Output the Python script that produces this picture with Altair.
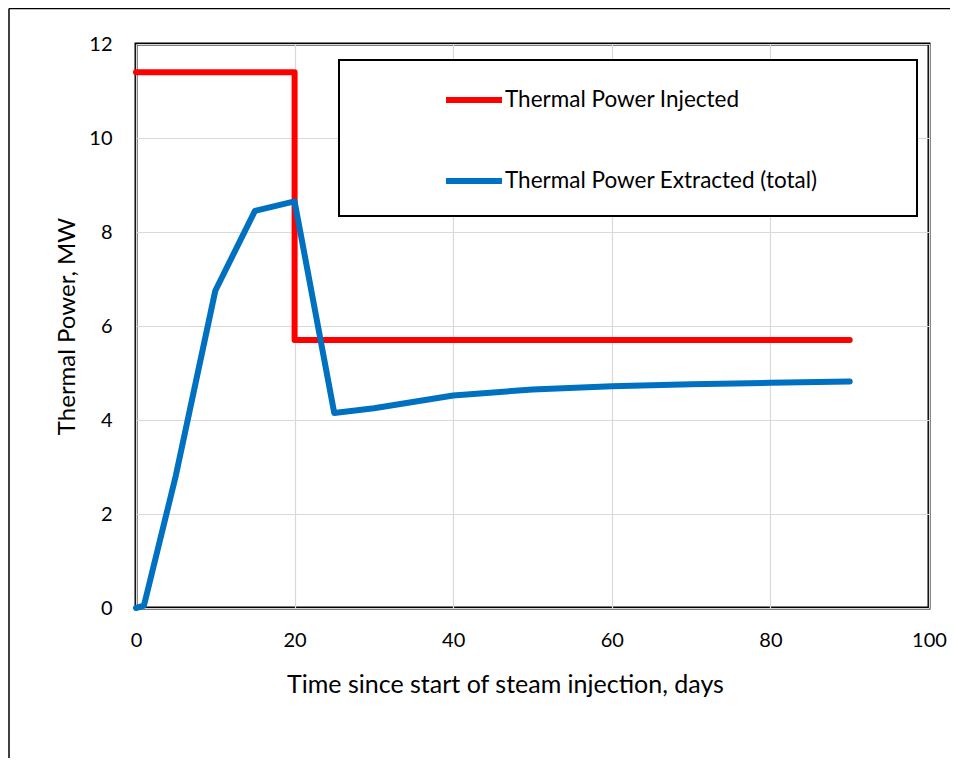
import altair as alt
import pandas as pd

# Data
inj_days = [0, 20, 20, 90]
inj_mw = [11.4, 11.4, 5.7, 5.7]

ext_days = [0, 1, 5, 10, 15, 20, 25, 30, 40, 50, 60, 70, 80, 90]
ext_mw = [0.0, 0.05, 2.8, 6.75, 8.45, 8.65, 4.15, 4.25, 4.52, 4.65, 4.72, 4.76, 4.79, 4.82]

series_names = ["Thermal Power Injected", "Thermal Power Extracted (total)"]
series_colors = ["#FF0000", "#0070C0"]

x_ticks = [0, 20, 40, 60, 80, 100]
y_ticks = [0, 2, 4, 6, 8, 10, 12]

rows = []
for i, (d, v) in enumerate(zip(inj_days, inj_mw)):
    rows.append({"series": series_names[0], "days": d, "mw": v, "ord": i})
for i, (d, v) in enumerate(zip(ext_days, ext_mw)):
    rows.append({"series": series_names[1], "days": d, "mw": v, "ord": i})
df = pd.DataFrame(rows)

FONT = "Lato"
W, H = 793, 564

one = pd.DataFrame({"k": [0]})

frame_top = alt.Chart(one).mark_rule(stroke="black", strokeWidth=1.5).encode(
    x=alt.value(-127), x2=alt.value(W + 200), y=alt.value(-35.5)
)
frame_left = alt.Chart(one).mark_rule(stroke="black", strokeWidth=1.5).encode(
    x=alt.value(-127), y=alt.value(-35.5), y2=alt.value(H + 300)
)

legend_box = alt.Chart(one).mark_rect(fill="white", stroke="black", strokeWidth=2).encode(
    x=alt.value(203), x2=alt.value(781), y=alt.value(16), y2=alt.value(172)
)

lines = alt.Chart(df).mark_line(strokeWidth=6, strokeJoin="round", strokeCap="round").encode(
    x=alt.X("days:Q",
            scale=alt.Scale(domain=[0, 100], nice=False),
            axis=alt.Axis(values=x_ticks, title="Time since start of steam injection, days",
                          grid=True, gridColor="#D9D9D9", gridWidth=1.2,
                          domain=False, ticks=False, labelPadding=22, labelFlush=False,
                          labelFontSize=20, labelColor="black", labelFont=FONT,
                          titleFontSize=25, titleFont=FONT, titleFontWeight="normal",
                          titleColor="black", titleX=369, titleY=76, titleBaseline="middle")),
    y=alt.Y("mw:Q",
            scale=alt.Scale(domain=[0, 12], nice=False),
            axis=alt.Axis(values=y_ticks, title="Thermal Power, MW",
                          grid=True, gridColor="#D9D9D9", gridWidth=1.2,
                          domain=False, ticks=False, labelPadding=24,
                          labelFontSize=20, labelColor="black", labelFont=FONT,
                          titleFontSize=24, titleFont=FONT, titleFontWeight="normal",
                          titleColor="black", titleX=-69, titleY=H / 2, titleBaseline="middle",
                          titleAngle=270)),
    color=alt.Color("series:N",
                    scale=alt.Scale(domain=series_names, range=series_colors),
                    legend=alt.Legend(title=None, orient="none", legendX=307, legendY=25,
                                      symbolType="stroke", symbolSize=3136,
                                      symbolStrokeWidth=6, labelFontSize=22.5,
                                      labelFont=FONT, labelColor="black",
                                      labelOffset=0, rowPadding=38, padding=0,
                                      labelLimit=400)),
    order=alt.Order("ord:Q"),
)

chart = alt.layer(frame_top, frame_left, legend_box, lines).properties(
    width=W, height=H,
    padding={"left": 128, "top": 36, "right": 21, "bottom": 150},
    autosize="none",
    background="white",
).configure_view(stroke="black", strokeWidth=3)

chart.save("out.html", embed_options={"renderer": "svg", "actions": False})
